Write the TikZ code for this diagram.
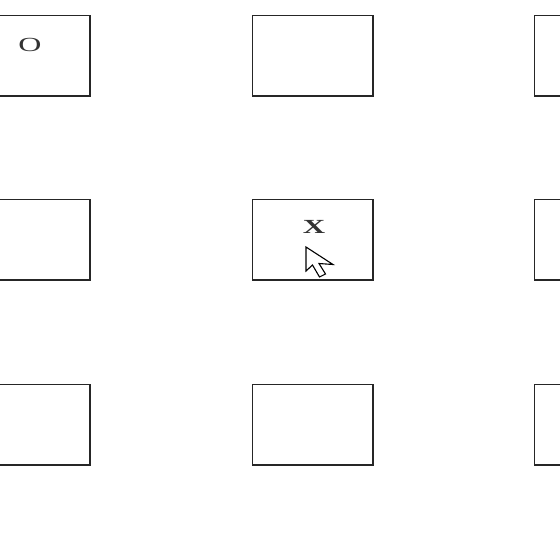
\documentclass[tikz,border=0pt]{standalone}
\usepackage{fontspec}
\setmainfont{Liberation Serif}
\begin{document}
\begin{tikzpicture}[x=1pt,y=-1pt,
  cell/.style={draw=black!85,line width=1.6pt,minimum width=120.4pt,minimum height=80.4pt,inner sep=0pt,anchor=north west},
  glyph/.style={text=black!80,inner sep=0pt}]
\useasboundingbox (0,0) rectangle (560,538);
\fill[white] (0,0) rectangle (560,538);
\node[cell] (c11) at (-31,14.8) {};
\node[cell] (c12) at (251.8,14.8) {};
\node[cell] (c13) at (533.8,14.8) {};
\node[cell] (c21) at (-31,198.8) {};
\node[cell] (c22) at (251.8,198.8) {};
\node[cell] (c23) at (533.8,198.8) {};
\node[glyph,font=\fontsize{20}{20}\selectfont] (o) at (30,44.5) {\scalebox{1.6}[1]{O}};
\node[glyph,font=\fontsize{20}{20}\selectfont\bfseries] (x) at (314,227) {\scalebox{1.55}[1]{X}};
\node[cell] (c31) at (-31,383.8) {};
\node[cell] (c32) at (251.8,383.8) {};
\node[cell] (c33) at (533.8,383.8) {};
\draw[fill=white,line width=1.1pt,line join=miter] (306,247) -- (306,271) -- (312.5,265) -- (319.5,277) -- (325.5,274) -- (319,263.5) -- (333,264.5) -- cycle;
\end{tikzpicture}
\end{document}
